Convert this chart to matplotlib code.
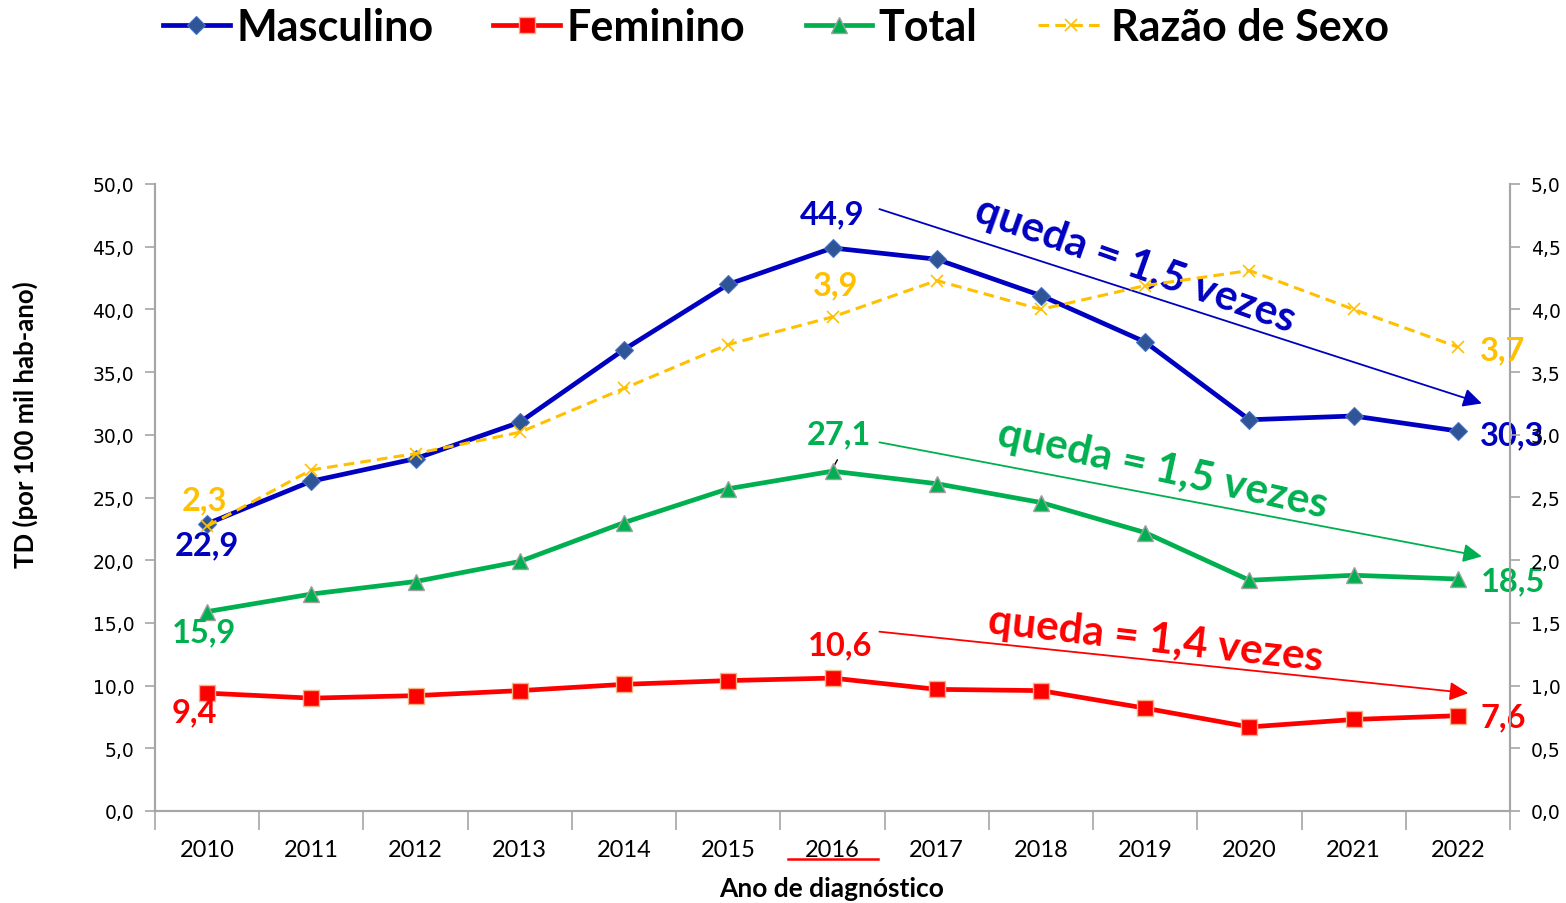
import matplotlib
matplotlib.use("Agg")
import matplotlib.pyplot as plt
from matplotlib.lines import Line2D

years = ["2010", "2011", "2012", "2013", "2014", "2015", "2016",
         "2017", "2018", "2019", "2020", "2021", "2022"]
masculino = [22.9, 26.3, 28.1, 31.0, 36.8, 42.0, 44.9, 44.0, 41.1, 37.4, 31.2, 31.5, 30.3]
feminino = [9.4, 9.0, 9.2, 9.6, 10.1, 10.4, 10.6, 9.7, 9.6, 8.2, 6.7, 7.3, 7.6]
total = [15.9, 17.3, 18.3, 19.9, 23.0, 25.7, 27.1, 26.1, 24.6, 22.2, 18.4, 18.8, 18.5]
razao = [2.27, 2.72, 2.85, 3.02, 3.37, 3.72, 3.94, 4.23, 4.0, 4.19, 4.31, 4.0, 3.7]
left_ticks = [0, 5, 10, 15, 20, 25, 30, 35, 40, 45, 50]
right_ticks = [0, 0.5, 1.0, 1.5, 2.0, 2.5, 3.0, 3.5, 4.0, 4.5, 5.0]

BLUE = "#0000C0"
RED = "#FF0000"
GREEN = "#00B050"
YELLOW = "#FFC000"
GRAY = "#A6A6A6"
LF = ["Lato", "DejaVu Sans"]

def fmt(v):
    return f"{v:.1f}".replace(".", ",")

fig = plt.figure(figsize=(15.66, 9.04), dpi=100)
ax = fig.add_axes([155/1566, 1-812/904, (1510-155)/1566, (812-185)/904])
ax2 = ax.twinx()
x = list(range(len(years)))

l1, = ax.plot(x, masculino, color=BLUE, lw=3.4, marker="D", ms=9,
              mfc="#2F5597", mec="#4472C4", mew=0.8, zorder=4)
l2, = ax.plot(x, feminino, color=RED, lw=3.4, marker="s", ms=12,
              mfc=RED, mec="#F4B183", mew=1.0, zorder=4)
l3, = ax.plot(x, total, color=GREEN, lw=3.4, marker="^", ms=12,
              mfc=GREEN, mec="#A0A0A0", mew=1.0, zorder=4)
l4, = ax2.plot(x, razao, color=YELLOW, lw=2.2, ls=(0, (3.5, 2)), marker="x", ms=9,
               mec=YELLOW, mew=1.2, zorder=4)

ax.set_xlim(-0.5, len(years) - 0.5)
ax.set_ylim(0, 50)
ax2.set_ylim(0, 5)
ax.set_yticks(left_ticks)
ax.set_yticklabels([fmt(v) for v in left_ticks], fontsize=13.5, family="DejaVu Sans")
ax2.set_yticks(right_ticks)
ax2.set_yticklabels([fmt(v) for v in right_ticks], fontsize=13.5, family="DejaVu Sans")
ax.set_xticks(x)
ax.set_xticklabels(years, fontsize=17, family=LF)
ax.set_xticks([i - 0.5 for i in range(len(years) + 1)], minor=True)
ax.tick_params(axis="x", which="major", length=0, pad=20)
ax.tick_params(axis="x", which="minor", length=14, color=GRAY, width=1.2)
ax.tick_params(axis="y", length=7, color=GRAY, width=1.2, pad=8)
ax2.tick_params(axis="y", length=7, color=GRAY, width=1.2, pad=8)

for a in (ax, ax2):
    a.spines["top"].set_visible(False)
    for s in ("left", "right", "bottom"):
        a.spines[s].set_color(GRAY)
        a.spines[s].set_linewidth(1.5)
ax.patch.set_visible(False)

# data labels
def lab(a, xi, yv, text, color, dx, dy):
    a.annotate(text, xy=(xi, yv), xytext=(dx, dy), textcoords="offset pixels",
               ha="center", va="center", color=color, fontsize=23.5,
               fontweight="bold", family=LF, zorder=6)

lab(ax, 0, masculino[0], fmt(masculino[0]), BLUE, 0, -21)
lab(ax, 6, masculino[6], fmt(masculino[6]), BLUE, 0, 34)
lab(ax, 12, masculino[12], fmt(masculino[12]), BLUE, 54, -4)
lab(ax2, 0, razao[0], fmt(razao[0]), YELLOW, -3, 27)
lab(ax2, 6, razao[6], fmt(razao[6]), YELLOW, 3, 32)
lab(ax2, 12, razao[12], fmt(razao[12]), YELLOW, 45, -3)
lab(ax, 0, total[0], fmt(total[0]), GREEN, -3, -20)
lab(ax, 6, total[6], fmt(total[6]), GREEN, 6, 37)
lab(ax, 12, total[12], fmt(total[12]), GREEN, 55, -2)
lab(ax, 0, feminino[0], fmt(feminino[0]), RED, -13, -19)
lab(ax, 6, feminino[6], fmt(feminino[6]), RED, 8, 33)
lab(ax, 12, feminino[12], fmt(feminino[12]), RED, 45, -1)

# leader line for 27,1
ax.annotate("", xy=(6.0, 27.3), xytext=(6.06, 28.2),
            arrowprops=dict(arrowstyle="-", color="black", lw=1.0))

# trend arrows and texts
arrows = [((6.45, 48.0), (12.23, 32.5), BLUE),
          ((6.45, 29.4), (12.23, 20.3), GREEN),
          ((6.45, 14.3), (12.1, 9.4), RED)]
for (s, e, c) in arrows:
    ax.annotate("", xy=e, xytext=s,
                arrowprops=dict(arrowstyle="-|>", color=c, lw=1.3,
                                mutation_scale=28, shrinkA=0, shrinkB=0))

texts = [(8.9, 43.6, "queda = 1,5 vezes", BLUE, -19.5),
         (9.17, 27.3, "queda = 1,5 vezes", GREEN, -12.5),
         (9.1, 13.7, "queda = 1,4 vezes", RED, -6.5)]
for (tx, ty, t, c, r) in texts:
    ax.text(tx, ty, t, color=c, fontsize=30.5, fontweight="bold", family=LF,
            rotation=r, rotation_mode="anchor", ha="center", va="center", zorder=6)

# axis labels
fig.text(25/1566, 1-425/904, "TD (por 100 mil hab-ano)", rotation=90,
         ha="center", va="center", fontsize=18.5, fontweight="bold", family=LF)
fig.text(832/1566, 1-889/904, "Ano de diagnóstico", ha="center", va="center",
         fontsize=19, fontweight="bold", family=LF)

# red underline under 2016
fig.add_artist(Line2D([788/1566, 878/1566], [1-860/904, 1-860/904],
                      transform=fig.transFigure, color=RED, lw=1.8))

leg = fig.legend([l1, l2, l3, l4], ["Masculino", "Feminino", "Total", "Razão de Sexo"],
                 loc="center", bbox_to_anchor=(776/1566, 1-28/904), ncol=4,
                 frameon=False, handlelength=1.55, handletextpad=0.15,
                 columnspacing=1.4, prop=dict(family=LF, weight="bold", size=31))

fig.savefig("out.png", dpi=100)
